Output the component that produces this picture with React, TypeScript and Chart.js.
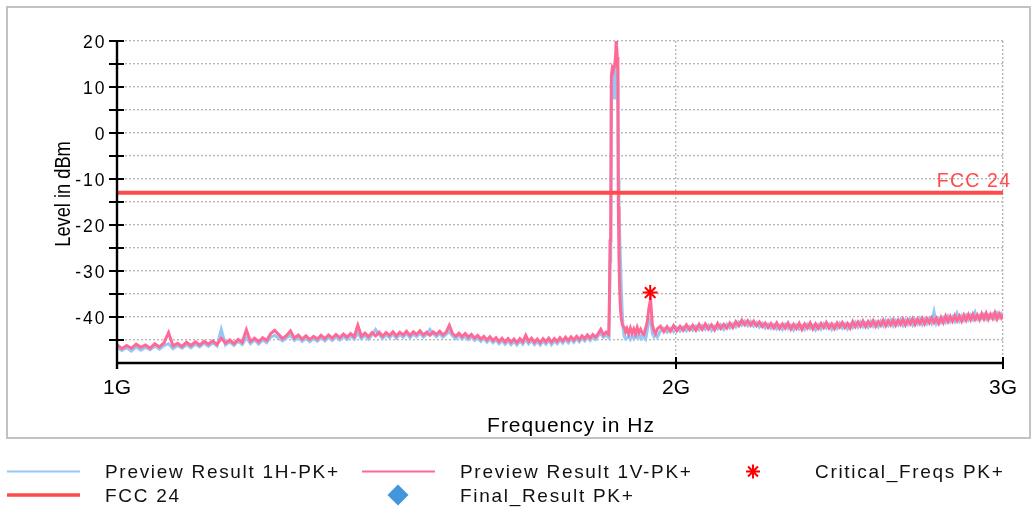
import React, { useEffect, useRef } from "react";
import { Chart, registerables } from "chart.js";

Chart.register(...registerables);

// ---------- data (frequencies in MHz, levels in dBm) ----------
const FREQ_LOW_MHZ = [
  1000, 1006, 1012, 1018, 1024, 1030, 1036, 1042, 1048, 1054,
  1060, 1066, 1072, 1078, 1084, 1090, 1096, 1102, 1108, 1114,
  1120, 1126, 1132, 1138, 1144, 1150, 1156, 1162, 1168, 1174,
  1180, 1186, 1192, 1198, 1204, 1210, 1216, 1222, 1228, 1234,
  1240, 1246, 1252, 1258, 1264, 1270, 1276, 1282, 1288, 1294,
  1300, 1306, 1312, 1318, 1324, 1330, 1336, 1342, 1348, 1354,
  1360, 1366, 1372, 1378, 1384, 1390, 1396, 1402, 1408, 1414,
  1420, 1426, 1432, 1438, 1444, 1450, 1456, 1462, 1468, 1474,
  1480, 1486, 1492, 1498, 1504, 1510, 1516, 1522, 1528, 1534,
  1540, 1546, 1552, 1558, 1564, 1570, 1576, 1582, 1588, 1594,
  1600, 1606, 1612, 1618, 1624, 1630, 1636, 1642, 1648, 1654,
  1660, 1666, 1672, 1678, 1684, 1690, 1696, 1702, 1708, 1714,
  1720, 1726, 1732, 1738, 1744, 1750, 1756, 1762, 1768, 1774,
  1780, 1786, 1792, 1798, 1804, 1810, 1816, 1822, 1828, 1834,
  1840,
];
const V_LOW = [
  -46.0, -46.9, -46.2, -46.8, -45.9, -46.6, -46.1, -46.8, -45.8, -46.5,
  -45.6, -43.4, -46.3, -45.7, -46.4, -45.5, -46.2, -45.4, -46.1, -45.3,
  -45.9, -45.2, -46.0, -44.6, -45.7, -45.0, -45.8, -44.9, -45.5, -42.8,
  -45.3, -44.6, -45.4, -44.5, -45.1, -43.6, -42.9, -43.8, -44.7, -44.0,
  -43.0, -44.6, -43.9, -44.8, -44.1, -44.9, -44.2, -44.8, -44.0, -44.7,
  -43.9, -44.6, -43.8, -44.5, -43.7, -44.4, -43.6, -44.3, -41.8, -44.2,
  -43.5, -44.3, -43.4, -44.1, -43.3, -44.2, -43.4, -44.0, -43.2, -44.1,
  -43.3, -43.9, -43.1, -44.0, -43.2, -43.8, -43.0, -43.9, -43.3, -44.0,
  -43.2, -43.8, -43.1, -43.9, -43.3, -41.8, -43.6, -44.2, -43.5, -44.3,
  -43.6, -44.4, -43.8, -44.6, -44.0, -44.8, -44.2, -45.0, -44.3, -45.1,
  -44.5, -45.3, -44.6, -45.4, -44.7, -45.5, -44.8, -45.6, -44.7, -45.4,
  -44.0, -45.3, -44.6, -45.5, -44.8, -45.6, -44.7, -45.4, -44.6, -45.5,
  -44.7, -45.3, -44.5, -45.2, -44.4, -45.1, -44.3, -45.0, -44.2, -44.9,
  -44.1, -44.7, -43.9, -44.6, -43.8, -44.4, -43.6, -42.7, -43.9, -43.3,
  -43.8,
];
const H_LOW = [
  -46.6, -47.3, -46.7, -47.4, -46.5, -47.2, -46.6, -47.1, -46.3, -47.0,
  -46.2, -45.8, -46.9, -46.2, -46.8, -46.0, -46.7, -45.9, -46.5, -45.7,
  -46.4, -45.6, -46.3, -42.7, -46.1, -45.4, -46.2, -45.3, -46.0, -44.5,
  -45.8, -45.0, -45.9, -45.0, -45.6, -44.4, -44.0, -44.6, -45.2, -44.5,
  -44.0, -45.1, -44.4, -45.3, -44.6, -45.4, -44.7, -45.3, -44.5, -45.2,
  -44.4, -45.1, -44.3, -45.0, -44.2, -44.9, -44.1, -44.8, -43.5, -44.7,
  -44.0, -44.8, -43.9, -42.7, -43.8, -44.7, -43.9, -44.5, -43.7, -44.6,
  -43.8, -44.4, -43.6, -44.5, -43.7, -44.3, -43.5, -44.4, -43.8, -42.7,
  -43.7, -44.3, -43.6, -44.4, -43.8, -43.2, -44.1, -44.7, -44.0, -44.8,
  -44.1, -44.9, -44.3, -45.1, -44.5, -45.3, -44.7, -45.5, -44.8, -45.6,
  -45.0, -45.8, -45.1, -45.9, -45.2, -46.0, -45.3, -46.1, -45.2, -45.9,
  -44.8, -45.8, -45.1, -46.0, -45.3, -46.1, -45.2, -45.9, -45.1, -46.0,
  -45.2, -45.8, -45.0, -45.7, -44.9, -45.6, -44.8, -45.5, -44.7, -45.4,
  -44.6, -45.2, -44.4, -45.1, -44.3, -44.9, -44.1, -43.6, -44.4, -43.9,
  -44.5,
];

const FREQ_PEAK_MHZ = [
  1841.5, 1843, 1844.5, 1846, 1848, 1850, 1852, 1854, 1856, 1857, 1858,
  1859.5, 1861, 1862, 1863.5, 1865, 1867, 1869, 1871, 1873, 1876, 1879,
];
const V_PEAK = [
  -36.0, -23.5, -22.5, 12.5, 14.0, 13.5, 14.5, 15.0, 17.5, 20.0, 19.0,
  16.5, 14.0, -16.0, -27.0, -34.0, -38.5, -40.5, -41.5, -42.0, -42.3, -43.2,
];
const H_PEAK = [
  -40.0, -28.0, -26.0, 11.0, 13.5, 7.8, 7.6, 13.0, 15.0, 15.5, 14.8,
  12.0, 4.0, -10.0, -17.0, -22.0, -28.0, -34.0, -39.0, -42.5, -44.3, -44.8,
];

const FREQ_MID_MHZ = [
  1882, 1886, 1890, 1894, 1898, 1902, 1906, 1910, 1914, 1918,
  1922, 1926, 1930, 1934, 1938, 1942, 1946, 1950, 1954,
];
const V_MID = [
  -42.5, -43.6, -42.4, -43.5, -42.6, -43.7, -42.3, -43.4, -42.7, -43.5,
  -43.8, -42.5, -41.0, -38.0, -36.2, -41.5, -43.0, -43.6, -42.6,
];
const H_MID = [
  -44.6, -44.0, -44.8, -43.9, -44.7, -44.0, -44.5, -43.8, -44.6, -43.9,
  -44.5, -44.9, -43.0, -40.5, -40.5, -43.5, -44.3, -43.8, -44.4,
];

const FREQ_HIGH_MHZ = [
  1962, 1970, 1978, 1986, 1994, 2002, 2010, 2018, 2026, 2034,
  2042, 2050, 2058, 2066, 2074, 2082, 2090, 2098, 2106, 2114,
  2122, 2130, 2138, 2146, 2154, 2162, 2170, 2178, 2186, 2194,
  2202, 2210, 2218, 2226, 2234, 2242, 2250, 2258, 2266, 2274,
  2282, 2290, 2298, 2306, 2314, 2322, 2330, 2338, 2346, 2354,
  2362, 2370, 2378, 2386, 2394, 2402, 2410, 2418, 2426, 2434,
  2442, 2450, 2458, 2466, 2474, 2482, 2490, 2498, 2506, 2514,
  2522, 2530, 2538, 2546, 2554, 2562, 2570, 2578, 2586, 2594,
  2602, 2610, 2618, 2626, 2634, 2642, 2650, 2658, 2666, 2674,
  2682, 2690, 2698, 2706, 2714, 2722, 2730, 2738, 2746, 2754,
  2762, 2770, 2778, 2786, 2794, 2802, 2810, 2818, 2826, 2834,
  2842, 2850, 2858, 2866, 2874, 2882, 2890, 2898, 2906, 2914,
  2922, 2930, 2938, 2946, 2954, 2962, 2970, 2978, 2986, 2994,
  3000,
];
const V_HIGH = [
  -42.0, -43.2, -42.1, -43.1, -41.9, -43.0, -42.0, -42.9, -41.7, -42.8,
  -41.8, -42.9, -41.6, -42.7, -41.5, -42.6, -41.7, -42.8, -41.4, -42.5,
  -41.6, -42.4, -41.3, -42.3, -41.0, -41.9, -40.7, -41.7, -40.8, -41.8,
  -40.9, -41.9, -41.1, -42.1, -41.3, -42.3, -41.4, -42.4, -41.3, -42.5,
  -41.5, -42.4, -41.3, -42.6, -41.6, -42.5, -41.4, -42.7, -41.5, -42.4,
  -41.3, -42.6, -41.5, -42.5, -41.4, -42.3, -41.2, -42.4, -41.5, -42.5,
  -41.3, -42.2, -41.2, -42.3, -41.4, -42.4, -41.0, -42.1, -41.1, -42.0,
  -40.9, -42.1, -41.0, -41.9, -40.8, -42.0, -41.0, -41.8, -40.7, -41.9,
  -40.8, -41.7, -40.6, -41.8, -40.7, -41.6, -40.5, -41.7, -40.6, -41.5,
  -40.4, -41.6, -40.5, -41.4, -40.3, -41.5, -40.4, -41.3, -40.2, -41.2,
  -40.3, -41.4, -40.1, -41.2, -39.8, -41.0, -39.9, -40.9, -39.7, -40.8,
  -39.8, -40.9, -39.6, -40.7, -39.5, -40.6, -39.4, -40.5, -39.6, -40.6,
  -39.3, -40.4, -39.2, -40.5, -39.4, -40.3, -39.1, -40.4, -39.3, -40.2,
  -39.5,
];
const H_HIGH = [
  -43.0, -42.4, -43.3, -42.5, -43.2, -42.3, -43.1, -42.2, -43.0, -42.1,
  -42.9, -42.0, -42.8, -41.9, -42.7, -41.8, -42.9, -42.0, -42.6, -41.7,
  -42.7, -41.6, -42.4, -41.5, -42.2, -41.1, -41.8, -40.9, -41.9, -41.0,
  -42.0, -41.2, -42.2, -41.4, -42.4, -41.6, -42.5, -41.7, -42.6, -41.8,
  -42.7, -41.6, -42.5, -41.8, -42.8, -41.7, -42.6, -41.9, -42.7, -41.6,
  -42.5, -41.8, -42.8, -41.7, -42.6, -41.5, -42.4, -41.6, -42.7, -41.7,
  -42.5, -41.4, -42.4, -41.5, -42.6, -41.6, -42.3, -41.2, -42.2, -41.1,
  -42.1, -41.3, -42.2, -41.0, -42.0, -41.1, -42.1, -40.9, -41.9, -40.8,
  -41.8, -40.7, -41.9, -40.8, -41.7, -40.6, -41.8, -40.7, -41.6, -40.5,
  -41.7, -40.6, -41.5, -40.4, -41.6, -40.5, -41.4, -40.3, -41.3, -38.9,
  -41.4, -40.4, -41.2, -40.2, -41.1, -39.9, -41.0, -40.0, -40.9, -39.3,
  -40.8, -39.8, -40.7, -39.7, -40.6, -39.6, -40.5, -39.0, -40.4, -39.7,
  -40.3, -39.5, -40.4, -39.6, -40.2, -39.4, -40.3, -39.2, -40.1, -39.3,
  -39.9,
];

const LIMIT_FREQ_MHZ = [1000, 3000];
const LIMIT_LEVEL_DBM = [-13, -13];
const CRITICAL_FREQ_MHZ = [1937];
const CRITICAL_LEVEL_DBM = [-34.7];

const X_TICKS_HZ = [1e9, 2e9, 3e9];
const X_TICK_LABELS = ["1G", "2G", "3G"];
const Y_GRID_VALUES = [-50, -45, -40, -35, -30, -25, -20, -15, -10, -5, 0, 5, 10, 15, 20];
const Y_LABEL_VALUES = [-40, -30, -20, -10, 0, 10, 20];

const X_TITLE = "Frequency in Hz";
const Y_TITLE = "Level in dBm";

const LABEL_H = "Preview Result 1H-PK+";
const LABEL_V = "Preview Result 1V-PK+";
const LABEL_CRIT = "Critical_Freqs PK+";
const LABEL_LIMIT = "FCC 24";
const LABEL_FINAL = "Final_Result PK+";

// ---------- styles ----------
const FONT = "'Liberation Sans', Arial, Helvetica, sans-serif";
const COLOR_H = "#96c8f5";
const COLOR_V = "#ff6996";
const COLOR_LIMIT = "#ff4b4b";
const COLOR_CRIT = "#ff0000";
const COLOR_FINAL = "#4196dc";
const GRID_COLOR = "#b8b8b8";

function toPoints(freqs: number[], levels: number[]) {
  return freqs.map((f, i) => ({ x: f * 1e6, y: levels[i] }));
}

function drawStar(ctx: any, x: number, y: number, r: number, color: string, w: number) {
  ctx.save();
  ctx.strokeStyle = color;
  ctx.lineWidth = w;
  ctx.beginPath();
  for (let k = 0; k < 4; k++) {
    const a = (k * Math.PI) / 4;
    ctx.moveTo(x - r * Math.cos(a), y - r * Math.sin(a));
    ctx.lineTo(x + r * Math.cos(a), y + r * Math.sin(a));
  }
  ctx.stroke();
  ctx.restore();
}

function drawDiamond(ctx: any, x: number, y: number, r: number, color: string) {
  ctx.save();
  ctx.fillStyle = color;
  ctx.beginPath();
  ctx.moveTo(x, y - r);
  ctx.lineTo(x + r, y);
  ctx.lineTo(x, y + r);
  ctx.lineTo(x - r, y);
  ctx.closePath();
  ctx.fill();
  ctx.restore();
}

function text(ctx: any, s: string, x: number, y: number, size: number, color: string, align: string, spacing: number, baseline = "alphabetic") {
  ctx.save();
  ctx.font = `${size}px ${FONT}`;
  ctx.fillStyle = color;
  ctx.textAlign = align;
  ctx.textBaseline = baseline;
  ctx.letterSpacing = `${spacing}px`;
  ctx.fillText(s, x, y);
  ctx.restore();
}

const decorPlugin = {
  id: "decor",
  beforeDraw(chart: any) {
    const ctx = chart.ctx;
    ctx.save();
    ctx.fillStyle = "#ffffff";
    ctx.fillRect(0, 0, chart.width, chart.height);
    ctx.strokeStyle = "#c2c2c2";
    ctx.lineWidth = 2;
    ctx.strokeRect(7, 7, 1023, 431);
    ctx.restore();
    const ys: any = chart.scales.y;
    if (ys && !ys.__spaced) {
      const orig = ys.drawLabels.bind(ys);
      ys.drawLabels = (area: any) => {
        const c: any = chart.ctx;
        c.save();
        c.letterSpacing = "2px";
        orig(area);
        c.restore();
      };
      ys.__spaced = true;
    }
  },
  afterDraw(chart: any) {
    const ctx = chart.ctx;
    const a = chart.chartArea;
    const xs = chart.scales.x;
    const ys = chart.scales.y;

    // axes
    ctx.save();
    ctx.strokeStyle = "#000";
    ctx.lineWidth = 2.4;
    ctx.beginPath();
    ctx.moveTo(a.left, a.top - 1);
    ctx.lineTo(a.left, a.bottom + 6);
    ctx.moveTo(a.left - 1, a.bottom);
    ctx.lineTo(a.right, a.bottom);
    ctx.stroke();
    ctx.lineWidth = 2;
    ctx.beginPath();
    ys.ticks.forEach((t: any) => {
      if (t.value <= ys.min) return;
      const py = ys.getPixelForValue(t.value);
      ctx.moveTo(a.left - 8, py);
      ctx.lineTo(a.left + 7, py);
    });
    xs.ticks.forEach((t: any) => {
      if (t.value <= xs.min) return;
      const px = xs.getPixelForValue(t.value);
      ctx.moveTo(px, a.bottom - 6);
      ctx.lineTo(px, a.bottom + 6);
    });
    ctx.stroke();
    ctx.restore();

    // limit label
    const ly = ys.getPixelForValue(LIMIT_LEVEL_DBM[LIMIT_LEVEL_DBM.length - 1]);
    text(ctx, LABEL_LIMIT, a.right + 8.2, ly - 6, 19.5, COLOR_LIMIT, "right", 1.2);

    // axis titles
    text(ctx, X_TITLE, (a.left + a.right) / 2 + 11, a.bottom + 68.5, 21, "#000", "center", 1);
    ctx.save();
    ctx.translate(64, (a.top + a.bottom) / 2 - 8);
    ctx.rotate(-Math.PI / 2);
    ctx.scale(0.83, 1);
    ctx.font = `22px ${FONT}`;
    ctx.fillStyle = "#000";
    ctx.textAlign = "center";
    ctx.textBaseline = "middle";
    ctx.fillText(Y_TITLE, 0, 0);
    ctx.restore();

    // legend
    const rows = [478, 501.5];
    const rowMid = [471.5, 495];
    const ds = chart.data.datasets;
    const items = [
      { d: ds[0], row: 0, sx: [7, 80], tx: 105 },
      { d: ds[1], row: 0, sx: [362, 435], tx: 460 },
      { d: ds[2], row: 0, sx: [753], tx: 815 },
      { d: ds[3], row: 1, sx: [7, 80], tx: 105 },
      { d: ds[4], row: 1, sx: [398], tx: 460 },
    ];
    items.forEach((it) => {
      const d: any = it.d;
      const my = rowMid[it.row];
      if (d.pointStyle === "star") {
        drawStar(ctx, it.sx[0], my, 7, d.borderColor, 2);
      } else if (d.pointStyle === "rectRot") {
        drawDiamond(ctx, it.sx[0], my, 10.5, d.backgroundColor);
      } else {
        ctx.save();
        ctx.strokeStyle = d.borderColor;
        ctx.lineWidth = d.legendLineWidth || 2;
        ctx.beginPath();
        ctx.moveTo(it.sx[0], my);
        ctx.lineTo(it.sx[1], my);
        ctx.stroke();
        ctx.restore();
      }
      text(ctx, d.label, it.tx, rows[it.row], 19, "#111", "left", 1.7);
    });
  },
};

export default function App() {
  const ref = useRef<HTMLCanvasElement | null>(null);

  useEffect(() => {
    document.body.style.margin = "0";
    const canvas = ref.current;
    if (!canvas) return;

    const hPoints = [
      ...toPoints(FREQ_LOW_MHZ, H_LOW),
      ...toPoints(FREQ_PEAK_MHZ, H_PEAK),
      ...toPoints(FREQ_MID_MHZ, H_MID),
      ...toPoints(FREQ_HIGH_MHZ, H_HIGH),
    ];
    const vPoints = [
      ...toPoints(FREQ_LOW_MHZ, V_LOW),
      ...toPoints(FREQ_PEAK_MHZ, V_PEAK),
      ...toPoints(FREQ_MID_MHZ, V_MID),
      ...toPoints(FREQ_HIGH_MHZ, V_HIGH),
    ];

    const chart = new Chart(canvas, {
      type: "line",
      data: {
        datasets: [
          {
            label: LABEL_H,
            data: hPoints,
            borderColor: COLOR_H,
            borderWidth: 3,
            legendLineWidth: 2,
            pointRadius: 0,
            pointHoverRadius: 0,
            order: 4,
          } as any,
          {
            label: LABEL_V,
            data: vPoints,
            borderColor: COLOR_V,
            borderWidth: 3,
            legendLineWidth: 2,
            pointRadius: 0,
            pointHoverRadius: 0,
            order: 3,
          } as any,
          {
            label: LABEL_CRIT,
            data: toPoints(CRITICAL_FREQ_MHZ, CRITICAL_LEVEL_DBM),
            showLine: false,
            pointStyle: "star",
            pointRadius: 7.5,
            borderColor: COLOR_CRIT,
            backgroundColor: COLOR_CRIT,
            pointBorderWidth: 2,
            borderWidth: 2,
            order: 0,
          } as any,
          {
            label: LABEL_LIMIT,
            data: toPoints(LIMIT_FREQ_MHZ, LIMIT_LEVEL_DBM),
            borderColor: COLOR_LIMIT,
            borderWidth: 4,
            legendLineWidth: 3.6,
            pointRadius: 0,
            pointHoverRadius: 0,
            order: 1,
          } as any,
          {
            label: LABEL_FINAL,
            data: [],
            showLine: false,
            pointStyle: "rectRot",
            pointRadius: 8,
            borderColor: COLOR_FINAL,
            backgroundColor: COLOR_FINAL,
            order: 2,
          } as any,
        ],
      },
      options: {
        animation: false,
        responsive: false,
        events: [],
        layout: { padding: { left: 0, top: 41, right: 28, bottom: 87 } },
        plugins: {
          legend: { display: false },
          tooltip: { enabled: false },
          title: { display: false },
        },
        scales: {
          x: {
            type: "logarithmic",
            position: "bottom",
            min: X_TICKS_HZ[0],
            max: X_TICKS_HZ[X_TICKS_HZ.length - 1],
            afterBuildTicks: (s: any) => {
              s.ticks = X_TICKS_HZ.map((v) => ({ value: v }));
            },
            afterFit: (s: any) => {
              s.height = 60;
            },
            ticks: {
              autoSkip: false,
              maxRotation: 0,
              padding: 13,
              color: "#000",
              font: { family: FONT, size: 21 },
              callback: (v: any) => {
                const i = X_TICKS_HZ.indexOf(Number(v));
                return i >= 0 ? X_TICK_LABELS[i] : "";
              },
            },
            grid: { color: GRID_COLOR, lineWidth: 1.4, drawTicks: false },
            border: { display: false, dash: [2, 2] },
          } as any,
          y: {
            type: "linear",
            position: "left",
            min: Y_GRID_VALUES[0],
            max: Y_GRID_VALUES[Y_GRID_VALUES.length - 1],
            afterBuildTicks: (s: any) => {
              s.ticks = Y_GRID_VALUES.map((v) => ({ value: v }));
            },
            afterFit: (s: any) => {
              s.width = 117;
            },
            ticks: {
              autoSkip: false,
              padding: 10.5,
              labelOffset: 2,
              color: "#000",
              font: { family: FONT, size: 17.5 },
              callback: (v: any) => (Y_LABEL_VALUES.indexOf(Number(v)) >= 0 ? String(v) : ""),
            },
            grid: { color: GRID_COLOR, lineWidth: 1.4, drawTicks: false },
            border: { display: false, dash: [2, 2] },
          } as any,
        },
      },
      plugins: [decorPlugin],
    } as any);

    return () => chart.destroy();
  }, []);

  return (
    <div style={{ width: 1031, height: 510 }}>
      <canvas ref={ref} width={1031} height={510} style={{ display: "block" }} />
    </div>
  );
}
